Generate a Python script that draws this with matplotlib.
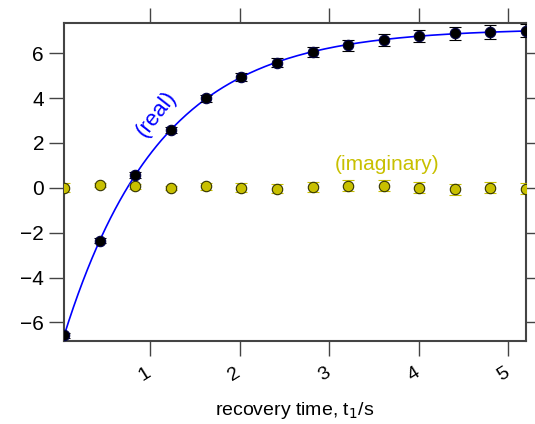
import numpy as np
import matplotlib
matplotlib.use("Agg")
import matplotlib.pyplot as plt
from matplotlib.transforms import ScaledTranslation

plt.rcParams['font.family'] = ['Liberation Sans', 'DejaVu Sans']

# recovery times (s)
t1 = [0.04, 0.44, 0.83, 1.23, 1.63, 2.02, 2.42, 2.82, 3.21, 3.61, 4.01, 4.41, 4.80, 5.20]

# real part of signal
real_y = [-6.57, -2.35, 0.58, 2.58, 3.99, 4.95, 5.58, 6.06, 6.36, 6.60, 6.76, 6.88, 6.95, 7.00]
real_err = [0.10, 0.10, 0.12, 0.12, 0.15, 0.18, 0.20, 0.22, 0.25, 0.27, 0.28, 0.30, 0.30, 0.30]

# imaginary part of signal
imag_y = [0.00, 0.13, 0.06, 0.00, 0.06, 0.00, -0.03, 0.03, 0.09, 0.09, 0.00, -0.06, 0.00, -0.03]
imag_err = [0.20, 0.10, 0.10, 0.10, 0.15, 0.20, 0.22, 0.22, 0.25, 0.25, 0.25, 0.25, 0.25, 0.25]

t = np.array(t1)
yr = np.array(real_y)

# fit y = a + b*exp(-t/T): grid search on T, linear least squares for a, b
best = None
for T in np.linspace(0.5, 3.0, 501):
    A = np.column_stack([np.ones_like(t), np.exp(-t / T)])
    coef, res, _, _ = np.linalg.lstsq(A, yr, rcond=None)
    r = np.sum((A @ coef - yr) ** 2)
    if best is None or r < best[0]:
        best = (r, T, coef)
_, T_fit, (a_fit, b_fit) = best
tt = np.linspace(t[0], t[-1], 300)
fit_curve = a_fit + b_fit * np.exp(-tt / T_fit)

fig = plt.figure(figsize=(5.35, 4.24), dpi=100)
ax = fig.add_axes([0.120, 0.196, 0.863, 0.750])

yellow = '#c8c000'
ax.plot(tt, fit_curve, color='#0000ff', lw=1.2, zorder=2)
ax.errorbar(t1, imag_y, yerr=imag_err, fmt='o', ms=7.5, mfc=yellow, mec='#333300',
            mew=0.8, ecolor='#c8c000', elinewidth=1.0, capsize=4, capthick=1.0, zorder=3)
ax.errorbar(t1, real_y, yerr=real_err, fmt='o', ms=7.5, mfc='black', mec='#000040',
            mew=0.8, ecolor='black', elinewidth=1.0, capsize=4, capthick=1.0, zorder=4)

ax.text(1.07, 3.3, '(real)', color='#0000ff', fontsize=16, rotation=52,
        ha='center', va='center')
ax.text(3.65, 1.05, '(imaginary)', color=yellow, fontsize=15,
        ha='center', va='center')

ax.set_xlim(t1[0], t1[-1])
ax.set_ylim(-6.82, 7.35)
ax.set_xticks([1, 2, 3, 4, 5])
ax.set_yticks([-6, -4, -2, 0, 2, 4, 6])
ax.set_yticklabels(['\u22126', '\u22124', '\u22122', '0', '2', '4', '6'])
ax.tick_params(axis='both', direction='out', length=11, width=1, color='#444444',
               top=True, right=True, labelsize=15)
ax.tick_params(axis='x', labelsize=14, pad=13)
shift = ScaledTranslation(-5 / 100, 0, fig.dpi_scale_trans)
for lab in ax.get_xticklabels():
    lab.set_rotation(32)
    lab.set_ha('center')
    lab.set_va('center')
    lab.set_rotation_mode('anchor')
    lab.set_transform(lab.get_transform() + shift)
for s in ax.spines.values():
    s.set_color('#444444')
    s.set_linewidth(1.5)

ax.set_xlabel('recovery time, t$_1$/s', fontsize=14)
ax.xaxis.set_label_coords(0.5, -0.185)

fig.savefig('out.png', dpi=100)
